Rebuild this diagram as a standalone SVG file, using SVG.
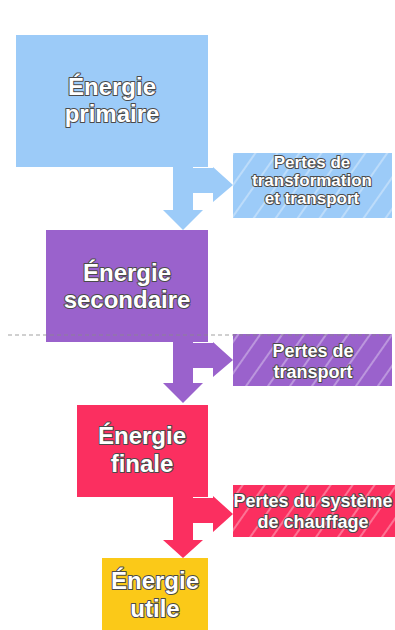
<svg xmlns="http://www.w3.org/2000/svg" width="395" height="630" viewBox="0 0 395 630">
  <defs>
    <pattern id="hatch" width="18" height="18" patternUnits="userSpaceOnUse" patternTransform="rotate(35)">
      <line x1="9" y1="0" x2="9" y2="18" stroke="#ffffff" stroke-opacity="0.55" stroke-width="1.2"/>
    </pattern>
  </defs>
  <style>
    .lbl { font-family: "Liberation Sans", Arial, sans-serif; font-weight: bold; fill: #ffffff; stroke: #4a4a4a; stroke-width: 2; paint-order: stroke; stroke-linejoin: round; text-anchor: middle; }
    .big { font-size: 24px; }
    .small { font-size: 17px; }
    .mid { font-size: 18px; }
    .blue { fill: #9ccbf8; }
    .purple { fill: #9a62cc; }
    .red { fill: #fb2f60; }
    .yellow { fill: #fbc918; }
    .hatch { fill: url(#hatch); }
    .dash { stroke: #8a8a8a; stroke-width: 1; stroke-dasharray: 4 3; fill: none; opacity: 0.8; }
  </style>
  <rect width="395" height="630" fill="#ffffff"/>

  <g id="connectors">
    <polygon class="blue" points="173,167 193,167 193,168 213,168 213,167 233,185 213,202 213,193 193,193 193,210 203,210 183,230 163,210 173,210"/>
    <polygon class="purple" points="173,342 193,342 193,343 213,343 213,342 233,360 213,377 213,368 193,368 193,383 203,383 183,403 163,383 173,383"/>
    <polygon class="red" points="173,497 193,497 193,498 213,498 213,496 233,514 213,532 213,523 193,523 193,540 203,540 183,558 163,540 173,540"/>
  </g>

  <g id="primaire">
    <rect class="blue" x="16" y="35" width="192" height="132"/>
    <text class="lbl big" x="112" y="95">Énergie</text>
    <text class="lbl big" x="112" y="122">primaire</text>
  </g>

  <g id="pertes1">
    <rect class="blue" x="233" y="153" width="159" height="65"/>
    <rect class="hatch" x="233" y="153" width="159" height="65"/>
    <text class="lbl small" x="312" y="168">Pertes de</text>
    <text class="lbl small" x="312" y="186">transformation</text>
    <text class="lbl small" x="312" y="204">et transport</text>
  </g>

  <g id="secondaire">
    <rect class="purple" x="46" y="230" width="162" height="112"/>
    <text class="lbl big" x="127" y="281">Énergie</text>
    <text class="lbl big" x="127" y="308">secondaire</text>
  </g>

  <g id="pertes2">
    <rect class="purple" x="233" y="334" width="159" height="52"/>
    <rect class="hatch" x="233" y="334" width="159" height="52"/>
    <text class="lbl mid" x="313" y="357">Pertes de</text>
    <text class="lbl mid" x="313" y="378">transport</text>
  </g>

  <g id="finale">
    <rect class="red" x="77" y="405" width="131" height="92"/>
    <text class="lbl big" x="142" y="444">Énergie</text>
    <text class="lbl big" x="142" y="472">finale</text>
  </g>

  <g id="pertes3">
    <rect class="red" x="233" y="485" width="162" height="52"/>
    <rect class="hatch" x="233" y="485" width="162" height="52"/>
    <text class="lbl mid" x="313" y="507">Pertes du système</text>
    <text class="lbl mid" x="313" y="528">de chauffage</text>
  </g>

  <g id="utile">
    <rect class="yellow" x="102" y="558" width="106" height="72"/>
    <text class="lbl big" x="155" y="589">Énergie</text>
    <text class="lbl big" x="155" y="617">utile</text>
  </g>

  <line class="dash" x1="8" y1="335" x2="392" y2="335"/>
</svg>
